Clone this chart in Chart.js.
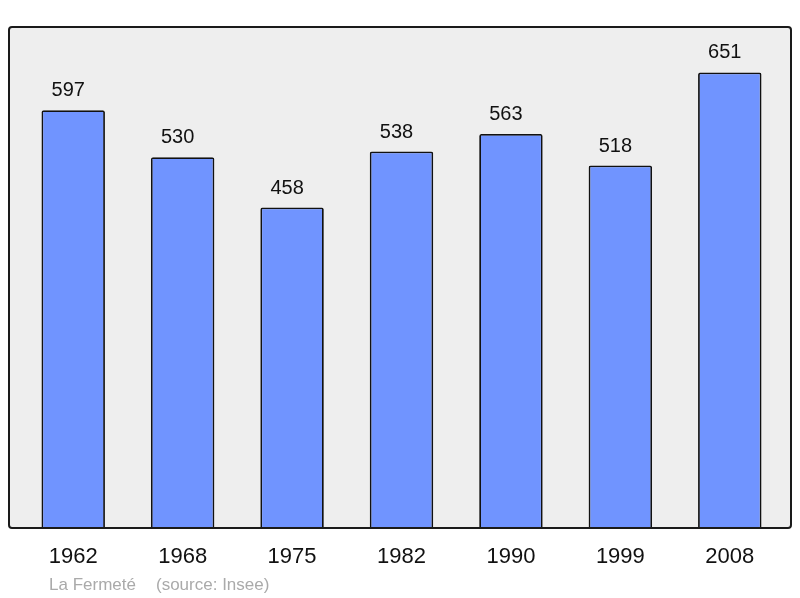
<!DOCTYPE html>
<html>
<head>
<meta charset="utf-8">
<script src="https://cdn.jsdelivr.net/npm/chart.js@4/dist/chart.umd.min.js"></script>
<style>
html,body{margin:0;padding:0;background:#ffffff;}
#c{display:block;}
</style>
</head>
<body>
<canvas id="c" width="800" height="598"></canvas>
<script>
const years = ["1962", "1968", "1975", "1982", "1990", "1999", "2008"];
const population = [597, 530, 458, 538, 563, 518, 651];
const footerName = "La Fermeté";
const footerSource = "(source: Insee)";

const FONT = "'Liberation Sans', Arial, sans-serif";

const frame = {
  id: 'frame',
  beforeDraw(chart) {
    const ctx = chart.ctx;
    const a = chart.chartArea;
    const x0 = a.left - 9.5, x1 = a.right + 6.5, y0 = a.top, y1 = a.bottom;
    ctx.save();
    ctx.beginPath();
    ctx.roundRect(x0, y0, x1 - x0, y1 - y0, 3);
    ctx.fillStyle = '#eeeeee';
    ctx.fill();
    ctx.restore();
  },
  afterDraw(chart) {
    const ctx = chart.ctx;
    const a = chart.chartArea;
    const x0 = a.left - 9.5, x1 = a.right + 6.5, y0 = a.top, y1 = a.bottom;
    ctx.save();
    ctx.beginPath();
    ctx.roundRect(x0, y0, x1 - x0, y1 - y0, 3);
    ctx.lineWidth = 2;
    ctx.strokeStyle = '#1a1a1a';
    ctx.stroke();
    ctx.fillStyle = '#aaaaaa';
    ctx.font = "17px " + FONT;
    ctx.textBaseline = 'middle';
    ctx.textAlign = 'left';
    ctx.fillText(footerName, 49, 585);
    ctx.fillText(footerSource, 156, 585);
    ctx.restore();
  },
  afterDatasetsDraw(chart) {
    const ctx = chart.ctx;
    const meta = chart.getDatasetMeta(0);
    ctx.save();
    ctx.fillStyle = '#111111';
    ctx.font = "20px " + FONT;
    ctx.textAlign = 'center';
    ctx.textBaseline = 'alphabetic';
    meta.data.forEach((bar, i) => {
      ctx.fillText(String(chart.data.datasets[0].data[i]), bar.x - 5, bar.y - 14);
    });
    ctx.restore();
  }
};

new Chart(document.getElementById('c'), {
  type: 'bar',
  data: {
    labels: years,
    datasets: [{
      data: population,
      backgroundColor: '#7094ff',
      borderColor: '#111111',
      borderWidth: 1.8,
      borderRadius: 2,
      borderSkipped: 'bottom',
      barPercentage: 0.58,
      categoryPercentage: 1.0
    }]
  },
  options: {
    responsive: false,
    animation: false,
    devicePixelRatio: 1,
    layout: { padding: { top: 27, left: 18.5, right: 15.5, bottom: 0 } },
    plugins: { legend: { display: false }, tooltip: { enabled: false }, title: { display: false } },
    scales: {
      x: {
        grid: { display: false, drawTicks: false },
        border: { display: false },
        ticks: { color: '#111111', font: { family: FONT, size: 22 }, padding: 16 },
        afterFit(scale) { scale.height = 70; }
      },
      y: {
        display: false,
        min: 0,
        max: 716
      }
    }
  },
  plugins: [frame]
});
</script>
</body>
</html>
